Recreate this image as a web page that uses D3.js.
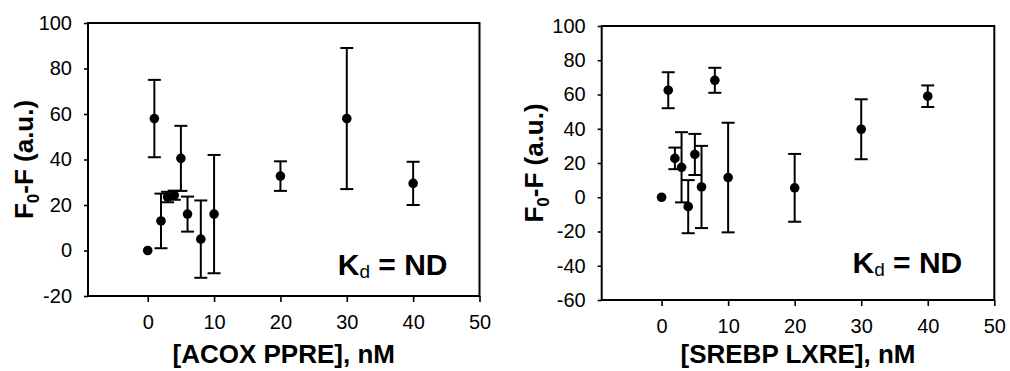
<!DOCTYPE html>
<html>
<head>
<meta charset="utf-8">
<script src="https://cdn.jsdelivr.net/npm/d3@7"></script>
<style>
  html, body { margin: 0; padding: 0; background: #fff; }
  svg { display: block; }
  text { font-family: Arial, "Liberation Sans", sans-serif; fill: #000; }
</style>
</head>
<body>
<svg id="chart" width="1010" height="371"></svg>
<script>
// Titration concentrations (nM), shared by both panels
const concentrations = [0, 1, 2, 3, 4, 5, 6, 8, 10, 20, 30, 40];

// ACOX PPRE panel: mean F0-F and error
const acoxSignal = [0, 58, 13, 23.5, 24.3, 40.5, 16, 5, 16, 32.7, 58, 29.5];
const acoxError  = [0, 17, 12, 2.3, 2, 14.3, 7.7, 17, 26, 6.5, 31, 9.5];

// SREBP LXRE panel: mean F0-F and error
const srebpSignal = [0, 62.5, 22.7, 17.5, -5.5, 25, 6, 68.3, 11.5, 5.5, 39.7, 59];
const srebpError  = [0, 10.5, 6.3, 20.5, 15.5, 12, 24, 7.3, 32, 19.8, 17.5, 6.3];

// Axis ticks
const xTicks = [0, 10, 20, 30, 40, 50];
const acoxYTicks = [-20, 0, 20, 40, 60, 80, 100];
const srebpYTicks = [-60, -40, -20, 0, 20, 40, 60, 80, 100];

const xTitles = ["[ACOX PPRE], nM", "[SREBP LXRE], nM"];

const svg = d3.select("#chart");

function drawPanel(cfg) {
  const { left, right, top, bottom, yDomain, yTicks, signal, error, xTitle, yTitleX, kdBaseline } = cfg;
  const x = d3.scaleLinear().domain([-9, 50]).range([left, right]);
  const y = d3.scaleLinear().domain(yDomain).range([bottom, top]);
  const g = svg.append("g");

  // x axis
  const xAxis = g.append("g")
    .attr("transform", `translate(0,${bottom})`)
    .call(d3.axisBottom(x).tickValues(xTicks).tickSize(6).tickPadding(13).tickFormat(d => String(d)));
  // y axis
  const yAxis = g.append("g")
    .attr("transform", `translate(${left},0)`)
    .call(d3.axisLeft(y).tickValues(yTicks).tickSize(4).tickPadding(12).tickFormat(d => String(d)));
  [xAxis, yAxis].forEach(a => {
    a.select(".domain").remove();
    a.selectAll(".tick line").attr("stroke", "#000").attr("stroke-width", 1.6);
    a.selectAll(".tick text").attr("font-size", 20).attr("fill", "#000")
      .attr("font-family", "Arial, 'Liberation Sans', sans-serif");
  });

  // frame
  g.append("rect")
    .attr("x", left).attr("y", top)
    .attr("width", right - left).attr("height", bottom - top)
    .attr("fill", "none").attr("stroke", "#000").attr("stroke-width", 2);

  const data = concentrations.map((c, i) => ({ c, v: signal[i], e: error[i] }));
  const withErr = data.filter(d => d.e > 0);
  const capHalf = 6.5;

  // error bars
  g.append("g").selectAll("line.stem").data(withErr).join("line")
    .attr("x1", d => x(d.c)).attr("x2", d => x(d.c))
    .attr("y1", d => y(d.v + d.e)).attr("y2", d => y(d.v - d.e))
    .attr("stroke", "#000").attr("stroke-width", 2);
  g.append("g").selectAll("line.capTop").data(withErr).join("line")
    .attr("x1", d => x(d.c) - capHalf).attr("x2", d => x(d.c) + capHalf)
    .attr("y1", d => y(d.v + d.e)).attr("y2", d => y(d.v + d.e))
    .attr("stroke", "#000").attr("stroke-width", 2);
  g.append("g").selectAll("line.capBottom").data(withErr).join("line")
    .attr("x1", d => x(d.c) - capHalf).attr("x2", d => x(d.c) + capHalf)
    .attr("y1", d => y(d.v - d.e)).attr("y2", d => y(d.v - d.e))
    .attr("stroke", "#000").attr("stroke-width", 2);

  // points
  g.append("g").selectAll("circle").data(data).join("circle")
    .attr("cx", d => x(d.c)).attr("cy", d => y(d.v)).attr("r", 4.8)
    .attr("fill", "#000");

  // x title
  g.append("text")
    .attr("x", (left + right) / 2).attr("y", 363)
    .attr("text-anchor", "middle").attr("font-size", 26).attr("font-weight", "bold")
    .text(xTitle);

  // y title: F0-F (a.u.)
  const yt = g.append("text")
    .attr("transform", `translate(${yTitleX},${(top + bottom) / 2}) rotate(-90)`)
    .attr("text-anchor", "middle").attr("font-size", 26).attr("font-weight", "bold");
  yt.append("tspan").text("F");
  yt.append("tspan").attr("font-size", 17).attr("dy", 6).text("0");
  yt.append("tspan").attr("dy", -6).text("-F (a.u.)");

  // Kd annotation
  const kd = g.append("text")
    .attr("x", right - 32).attr("y", kdBaseline)
    .attr("text-anchor", "end").attr("font-size", 30).attr("font-weight", "bold");
  kd.append("tspan").text("K");
  kd.append("tspan").attr("font-size", 19).attr("font-weight", "normal").attr("dy", 3).text("d");
  kd.append("tspan").attr("dy", -3).text(" = ND");
}

drawPanel({
  left: 88, right: 479.5, top: 23, bottom: 296,
  yDomain: [-20, 100], yTicks: acoxYTicks,
  signal: acoxSignal, error: acoxError,
  xTitle: xTitles[0], yTitleX: 33, kdBaseline: 274.5
});

drawPanel({
  left: 601.7, right: 994.3, top: 26, bottom: 300,
  yDomain: [-60, 100], yTicks: srebpYTicks,
  signal: srebpSignal, error: srebpError,
  xTitle: xTitles[1], yTitleX: 543, kdBaseline: 273
});
</script>
</body>
</html>
